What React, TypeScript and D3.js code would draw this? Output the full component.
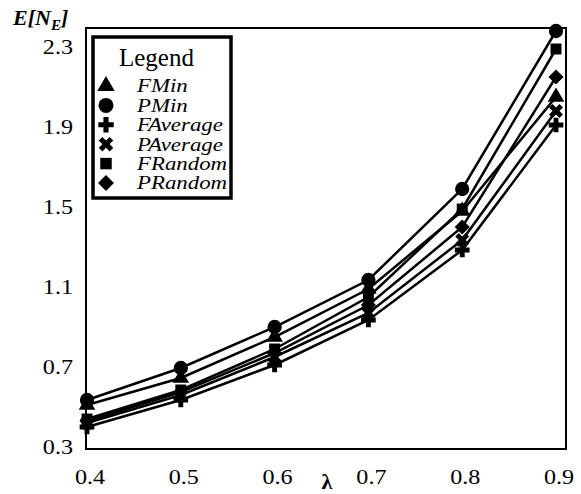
import React from "react";
import * as d3 from "d3";

const lambdas = [0.4, 0.5, 0.6, 0.7, 0.8, 0.9];
const yTicks = [0.3, 0.7, 1.1, 1.5, 1.9, 2.3];

const fMin = [0.51, 0.645, 0.85, 1.09, 1.48, 2.05];
const pMin = [0.535, 0.695, 0.9, 1.135, 1.59, 2.38];
const fAverage = [0.4, 0.535, 0.71, 0.935, 1.285, 1.91];
const pAverage = [0.42, 0.56, 0.75, 0.97, 1.335, 1.98];
const fRandom = [0.44, 0.585, 0.79, 1.05, 1.49, 2.29];
const pRandom = [0.43, 0.575, 0.77, 1.01, 1.4, 2.15];

const seriesNames = ["FMin", "PMin", "FAverage", "PAverage", "FRandom", "PRandom"];
const seriesValues = [fMin, pMin, fAverage, pAverage, fRandom, pRandom];

const W = 581;
const H = 494;
const frame = { left: 86, right: 566, top: 28, bottom: 449 };

// marker per series
const markers = [
  { type: d3.symbolTriangle, size: 120, rot: 0 },
  { type: d3.symbolCircle, size: 160, rot: 0 },
  { type: d3.symbolCross, size: 120, rot: 0 },
  { type: d3.symbolCross, size: 120, rot: 45 },
  { type: d3.symbolSquare, size: 120, rot: 0 },
  { type: d3.symbolSquare, size: 115, rot: 45 },
];

export default function App() {
  const x = d3.scaleLinear().domain([0.4, 0.9]).range([87, 556]);
  const y = d3.scaleLinear().domain([0.3, 2.3]).range([447, 47]);

  const line = d3
    .line<number>()
    .x((d, i) => x(lambdas[i]))
    .y((d) => y(d));

  const font = "'Liberation Serif', 'Times New Roman', serif";

  return (
    <svg
      width={W}
      height={H}
      style={{ position: "absolute", left: 0, top: 0, background: "#fff" }}
      fontFamily={font}
    >
      <rect x={0} y={0} width={W} height={H} fill="#fff" />

      {/* plot frame */}
      <rect
        x={frame.left}
        y={frame.top}
        width={frame.right - frame.left}
        height={frame.bottom - frame.top}
        fill="none"
        stroke="#000"
        strokeWidth={2}
      />

      {/* y labels */}
      {yTicks.map((t) => (
        <text
          key={t}
          transform={`translate(73,${y(t)}) scale(1.15,1)`}
          dy="0.35em"
          textAnchor="end"
          fontSize={21}
        >
          {t.toFixed(1)}
        </text>
      ))}

      {/* x labels */}
      {lambdas.map((t) => (
        <text
          key={t}
          transform={`translate(${x(t) + 3},484) scale(1.15,1)`}
          textAnchor="middle"
          fontSize={21}
        >
          {t.toFixed(1)}
        </text>
      ))}

      <text x={327} y={489} textAnchor="middle" fontSize={22} fontWeight="bold">
        λ
      </text>

      {/* y title */}
      <text x={13} y={25} fontSize={22} fontStyle="italic" fontWeight="bold">
        E[N
        <tspan fontSize={15} dy={5}>E</tspan>
        <tspan dy={-5}>]</tspan>
      </text>

      {/* lines */}
      {seriesValues.map((vals, i) => (
        <path
          key={seriesNames[i]}
          d={line(vals) || ""}
          fill="none"
          stroke="#000"
          strokeWidth={2.5}
        />
      ))}

      {/* markers */}
      {seriesValues.map((vals, i) =>
        vals.map((v, j) => (
          <path
            key={seriesNames[i] + j}
            d={d3.symbol().type(markers[i].type).size(markers[i].size)() || ""}
            transform={`translate(${x(lambdas[j])},${y(v)}) rotate(${markers[i].rot})`}
            fill="#000"
          />
        ))
      )}

      {/* legend */}
      <g>
        <rect x={93} y={37} width={138} height={161} fill="#fff" />
        <text x={119} y={66} fontSize={25}>
          Legend
        </text>
        {seriesNames.map((name, i) => {
          const cy = 86 + i * 19.4;
          return (
            <g key={name}>
              <path
                d={d3.symbol().type(markers[i].type).size(markers[i].size * 1.1)() || ""}
                transform={`translate(106,${cy}) rotate(${markers[i].rot})`}
                fill="#000"
              />
              <text
                transform={`translate(137,${cy}) scale(1.27,1)`}
                dy="0.35em"
                fontSize={18}
                fontStyle="italic"
              >
                {name}
              </text>
            </g>
          );
        })}
        <rect x={93} y={37} width={138} height={161} fill="none" stroke="#000" strokeWidth={3.5} />
      </g>
    </svg>
  );
}
